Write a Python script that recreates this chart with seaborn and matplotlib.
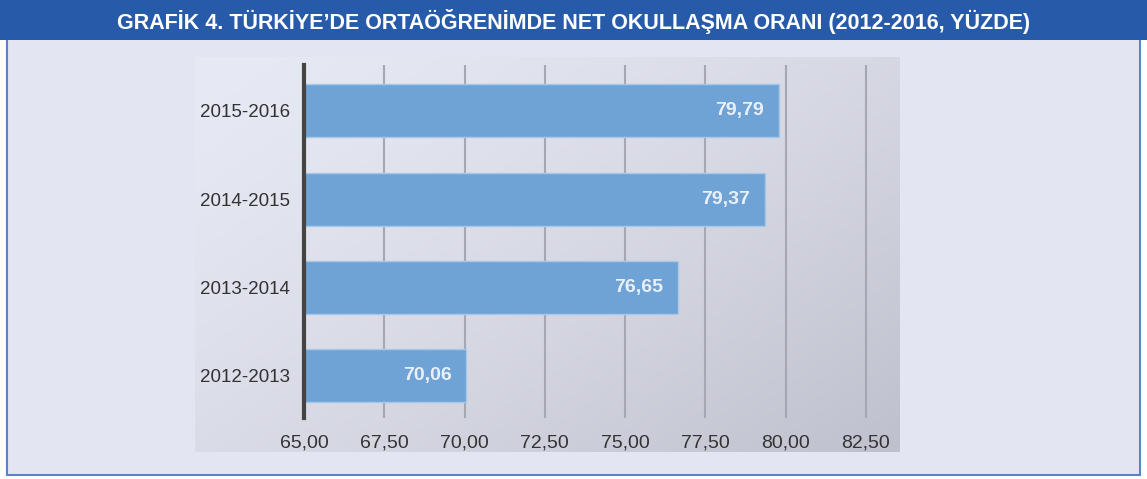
import numpy as np
import pandas as pd
import matplotlib
matplotlib.use('Agg')
import matplotlib.pyplot as plt
from matplotlib.patches import Rectangle
from matplotlib.ticker import FuncFormatter, MultipleLocator
import seaborn as sns

# data, top to bottom as in the chart
years = ['2015-2016', '2014-2015', '2013-2014', '2012-2013']
rates = [79.79, 79.37, 76.65, 70.06]

TITLE = 'GRAFİK 4. TÜRKİYE’DE ORTAÖĞRENİMDE NET OKULLAŞMA ORANI (2012-2016, YÜZDE)'
BLUE_BANNER = '#275baa'
PANEL = '#e3e6f2'
BAR = '#6fa3d5'

sns.set_theme(style='white')
plt.rcParams['font.family'] = ['Liberation Sans', 'DejaVu Sans']

W, H = 1147, 479
fig = plt.figure(figsize=(W / 100, H / 100), dpi=100)
fig.patch.set_facecolor('white')


def fx(px):
    return px / W


def fy(py):
    return 1 - py / H


# outer panel + title banner
fig.patches.append(Rectangle((fx(7), fy(475)), fx(1133), fy(38) - fy(475),
                             transform=fig.transFigure, facecolor=PANEL,
                             edgecolor='#5b84c8', lw=1.5, zorder=-2))
fig.patches.append(Rectangle((0, fy(40)), 1, 40 / H, transform=fig.transFigure,
                             facecolor=BLUE_BANNER, edgecolor='none', zorder=-1))
fig.text(0.5, fy(21), TITLE, ha='center', va='center', color='white',
         fontsize=15.5, fontweight='bold')

# gradient backdrop behind the plot
bg = fig.add_axes([fx(195), fy(452), fx(900 - 195), fy(57) - fy(452)], zorder=0)
gx, gy = np.meshgrid(np.linspace(0, 1, 300), np.linspace(0, 1, 200))
t = np.clip(0.55 * gx + 0.45 * gy, 0, 1) ** 1.4
c0 = np.array([0xe7, 0xe9, 0xf4]) / 255
c1 = np.array([0xbf, 0xc0, 0xcd]) / 255
img = c0 + (c1 - c0) * t[..., None]
bg.imshow(img, aspect='auto', extent=(0, 1, 0, 1), origin='upper')
bg.set_axis_off()

# main chart
ax = fig.add_axes([fx(304), fy(418), fx(900 - 304), fy(65) - fy(418)], zorder=2)
ax.patch.set_alpha(0)
df = pd.DataFrame({'year': years, 'rate': rates})
sns.barplot(data=df, x='rate', y='year', orient='h', color=BAR, saturation=1,
            width=0.6, edgecolor='#a9c8e8', linewidth=1, ax=ax, zorder=3)

ax.set_xlim(65, 83.56)
ax.set_ylim(3.48, -0.52)
ax.xaxis.set_major_locator(MultipleLocator(2.5))
ax.xaxis.set_major_formatter(FuncFormatter(lambda v, p: f'{v:.2f}'.replace('.', ',')))
ax.grid(axis='x', color='#a6a7b3', lw=1.5, zorder=1)
ax.set_axisbelow(True)
ax.set_xlabel('')
ax.set_ylabel('')
for s in ['top', 'right', 'bottom']:
    ax.spines[s].set_visible(False)
ax.spines['left'].set_color('#444444')
ax.spines['left'].set_linewidth(3)
ax.spines['left'].set_zorder(5)
ax.tick_params(axis='both', length=0, labelsize=14, labelcolor='#333333')
ax.tick_params(axis='y', labelsize=13.5, pad=10)
ax.tick_params(axis='x', pad=12)

for i, v in enumerate(rates):
    ax.text(v - 0.47, i, f'{v:.2f}'.replace('.', ','), ha='right', va='center',
            color='#eaf0fa', fontsize=14, fontweight='bold', zorder=6)

fig.savefig('out.png', dpi=100)
